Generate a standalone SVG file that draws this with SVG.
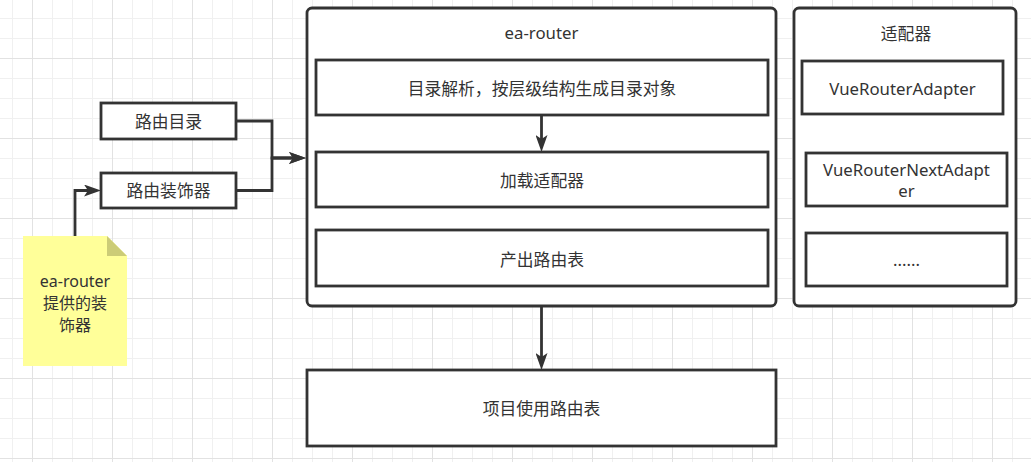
<svg xmlns="http://www.w3.org/2000/svg" width="1031" height="462" viewBox="0 0 1031 462">
  <style>
    .box { fill: #ffffff; stroke: #333333; stroke-width: 2.8; }
    .t { font-family: "Noto Sans", "Noto Sans CJK SC", sans-serif; font-size: 16.8px; fill: #333333; text-anchor: middle; dominant-baseline: central; }
    .edge { fill: none; stroke: #333333; stroke-width: 2.8; marker-end: url(#arrow); }
  </style>
  <defs>
    <pattern id="grid" patternUnits="userSpaceOnUse" x="32" y="58" width="80" height="80">
      <rect x="20" y="0" width="1" height="80" fill="#f0f0f0"/>
      <rect x="40" y="0" width="1" height="80" fill="#f0f0f0"/>
      <rect x="60" y="0" width="1" height="80" fill="#f0f0f0"/>
      <rect x="0" y="20" width="80" height="1" fill="#f0f0f0"/>
      <rect x="0" y="40" width="80" height="1" fill="#f0f0f0"/>
      <rect x="0" y="60" width="80" height="1" fill="#f0f0f0"/>
      <rect x="0" y="0" width="1" height="80" fill="#e2e2e2"/>
      <rect x="0" y="0" width="80" height="1" fill="#e2e2e2"/>
    </pattern>
    <marker id="arrow" viewBox="0 0 17 12" refX="4" refY="6" markerWidth="17" markerHeight="12" markerUnits="userSpaceOnUse" orient="auto">
      <path d="M0,0 L17,6 L0,12 L4,6 Z" fill="#333333"/>
    </marker>
  </defs>
  <rect x="0" y="0" width="1031" height="462" fill="#ffffff"/>
  <rect x="0" y="0" width="1031" height="462" fill="url(#grid)"/>

  <g id="ea-router">
    <rect class="box" x="307" y="8" width="469" height="298" rx="5" ry="5"/>
    <text class="t" x="541.5" y="32">ea-router</text>
  </g>
  <g id="parse">
    <rect class="box" x="316" y="60" width="452" height="55"/>
    <text class="t" x="542" y="88">目录解析，按层级结构生成目录对象</text>
  </g>
  <g id="load-adapter">
    <rect class="box" x="316" y="152" width="452" height="55"/>
    <text class="t" x="542" y="180">加载适配器</text>
  </g>
  <g id="output-routes">
    <rect class="box" x="316" y="230" width="452" height="56"/>
    <text class="t" x="542" y="259">产出路由表</text>
  </g>

  <g id="adapters">
    <rect class="box" x="794" y="8" width="222" height="298" rx="5" ry="5"/>
    <text class="t" x="906" y="33">适配器</text>
  </g>
  <g id="vue-router-adapter">
    <rect class="box" x="802" y="61" width="201" height="53"/>
    <text class="t" x="902.5" y="88">VueRouterAdapter</text>
  </g>
  <g id="vue-router-next-adapter">
    <rect class="box" x="806" y="153" width="201" height="53"/>
    <text class="t" x="906.5" y="169">VueRouterNextAdapt<tspan x="906.5" dy="21">er</tspan></text>
  </g>
  <g id="more-adapters">
    <rect class="box" x="806" y="233" width="201" height="53"/>
    <text class="t" x="906.5" y="259">......</text>
  </g>

  <g id="project-use">
    <rect class="box" x="307" y="370" width="469" height="76"/>
    <text class="t" x="541.5" y="408">项目使用路由表</text>
  </g>

  <g id="route-dir">
    <rect class="box" x="101" y="103" width="135" height="36"/>
    <text class="t" x="168.5" y="121">路由目录</text>
  </g>
  <g id="route-decorator">
    <rect class="box" x="101" y="173" width="135" height="35"/>
    <text class="t" x="168.5" y="190.5">路由装饰器</text>
  </g>

  <g id="note">
    <polygon points="23,236 107,236 127,256 127,366 23,366" fill="#ffff99"/>
    <polygon points="107,236 107,256 127,256" fill="#cccc77"/>
    <text class="t" x="75" y="281" style="font-size:16px">ea-router<tspan x="75" dy="22">提供的装</tspan><tspan x="75" dy="22">饰器</tspan></text>
  </g>

  <g id="connectors">
    <path class="edge" d="M236,121 H272 V158 H293"/>
    <path class="edge" d="M236,190.5 H272 V158 H293"/>
    <path class="edge" d="M75,236 V190.5 H88"/>
    <path class="edge" d="M541.5,115 V139"/>
    <path class="edge" d="M541.5,306 V357"/>
  </g>
</svg>
